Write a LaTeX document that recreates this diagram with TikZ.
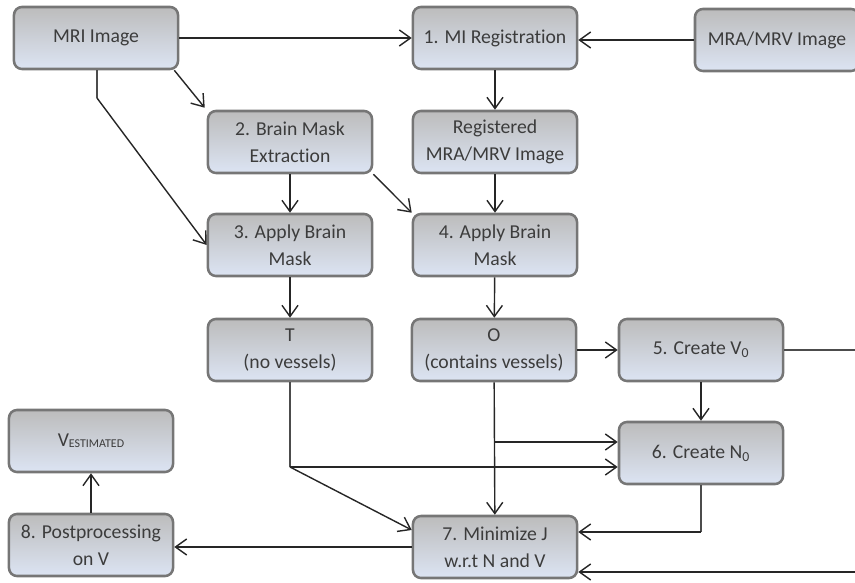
\documentclass[tikz,border=0pt]{standalone}
\usepackage{fontspec}
\setmainfont{Carlito}[Ligatures=NoCommon]
\usetikzlibrary{arrows.meta,calc}

\definecolor{cajaarriba}{RGB}{188,188,188}
\definecolor{cajaabajo}{RGB}{220,228,243}
\definecolor{cajaborde}{RGB}{118,118,118}
\definecolor{cajatexto}{RGB}{60,60,60}

\tikzset{
  caja/.style={rectangle, rounded corners=2mm, draw=cajaborde, line width=1.8pt,
    top color=cajaarriba, bottom color=cajaabajo, minimum width=4.1cm,
    minimum height=1.55cm, inner sep=1pt, align=center, text=cajatexto,
    font=\fontsize{14}{19}\selectfont},
  flecha/.style={-{Straight Barb[length=2.8mm,width=4mm,line width=1pt]}, line width=1pt, black!85},
  linea/.style={line width=1pt, black!70}
}

\begin{document}
\begin{tikzpicture}[x=0.025cm, y=-0.025cm]
\useasboundingbox (0,0) rectangle (855,583);

% Cajas
\node[caja] (mri)    at (96,38)   {MRI Image};
\node[caja] (reg)    at (495,38)  {1. MI Registration};
\node[caja] (mra)    at (777,40)  {MRA/MRV Image};

\node[caja] (bme)    at (290,142) {2. Brain Mask\\Extraction};
\node[caja] (regimg) at (495,142) {Registered\\MRA/MRV Image};

\node[caja] (abm3)   at (290,245) {3. Apply Brain\\Mask};
\node[caja] (abm4)   at (495,245) {4. Apply Brain\\Mask};

\node[caja] (t)      at (290,350) {T\\(no vessels)};
\node[caja] (o)      at (494,350) {O\\(contains vessels)};
\node[caja] (v0)     at (701,350) {5. Create V\textsubscript{0}};

\node[caja] (n0)     at (701,453) {6. Create N\textsubscript{0}};
\node[caja] (vest)   at (91,441)  {V{\fontsize{8.5}{9}\selectfont\raisebox{-0.25ex}{ESTIMATED}}};

\node[caja] (min)    at (495,547) {7. Minimize J\\w.r.t N and V};
\node[caja] (post)   at (91,545)  {8. Postprocessing\\on V};

% Puntos de paso
\coordinate (mrid) at (97,98);
\coordinate (tc)   at (290,467);
\coordinate (ob)   at (494,442);
\coordinate (nd)   at (701,532);
\coordinate (vd)   at (900,572);

% Conexiones
\draw[flecha] (mri) -- (reg);
\draw[flecha] (mra) -- (mra -| reg.east);
\draw[flecha] (reg) -- (regimg);
\draw[flecha] ($(mri.south east)+(-5,0)$) -- ($(bme.north west)+(-2,-2)$);
\draw[linea] (mri.south -| mrid) -- (mrid);
\draw[flecha] (mrid) -- (abm3.west);

\draw[flecha] (bme) -- (abm3);
\draw[flecha] (bme.south east) -- (abm4.north west);
\draw[flecha] (regimg) -- (abm4);

\draw[flecha] (abm3) -- (t);
\draw[flecha] (abm4) -- (o);
\draw[flecha] (o) -- (v0);
\draw[flecha] (v0) -- (n0);

\draw[linea] (t) -- (tc);
\draw[flecha] (tc) -- (tc -| n0.west);
\draw[flecha] (tc) -- ($(min.west)+(0,-17)$);
\draw[flecha] (o) -- (min);
\draw[flecha] (ob) -- (ob -| n0.west);

\draw[linea] (n0) -- (nd);
\draw[flecha] (nd) -- (nd -| min.east);
\draw[linea] (v0.east) -| (vd);
\draw[flecha] (vd) -- (vd -| min.east);

\draw[flecha] (min.west) -- (min.west -| post.east);
\draw[flecha] (post) -- (vest);
\end{tikzpicture}
\end{document}
